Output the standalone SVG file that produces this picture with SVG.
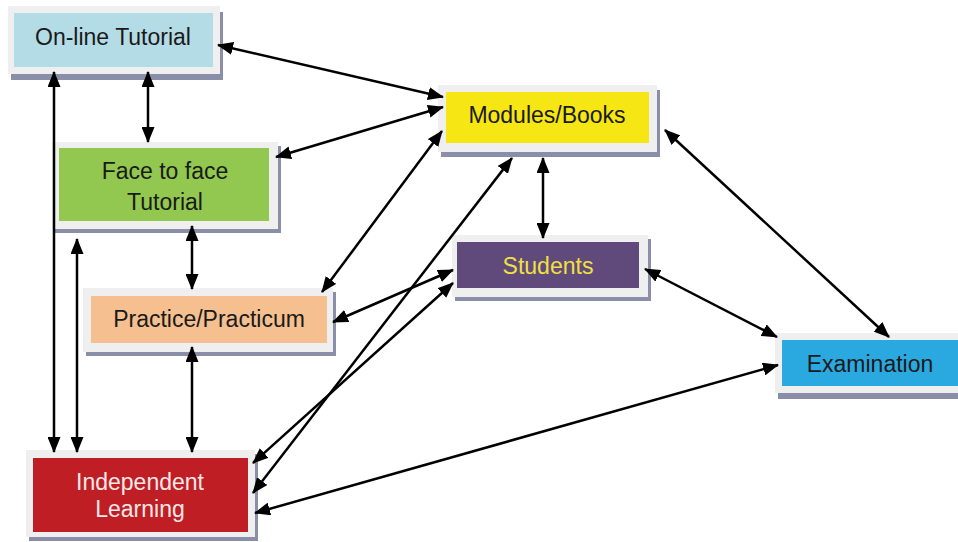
<svg xmlns="http://www.w3.org/2000/svg" width="958" height="542" viewBox="0 0 958 542">
<style>
.frame{fill:#efefef}
.shadow{fill:#8a8ea8}
.t{font-family:"Liberation Sans",Arial,sans-serif;font-size:23px;text-anchor:middle;fill:#1a1a1a}
.c line{stroke:#000;stroke-width:2.5;marker-start:url(#ah);marker-end:url(#ah)}
</style>
<defs>
<marker id="ah" markerUnits="userSpaceOnUse" markerWidth="16" markerHeight="13" viewBox="0 0 16 13" refX="15" refY="6.5" orient="auto-start-reverse">
<path d="M0,0 L16,6.5 L0,13 z" fill="#000"/>
</marker>
</defs>
<rect width="958" height="542" fill="#fff"/>
<g id="online">
<rect class="shadow" x="11" y="12" width="212" height="68"/>
<rect class="frame" x="8" y="6" width="212" height="68"/>
<rect x="14" y="13" width="199" height="54" fill="#b4dce6"/>
<text class="t" x="113" y="45">On-line Tutorial</text>
</g>
<g id="face">
<rect class="shadow" x="55" y="146" width="226" height="87"/>
<rect class="frame" x="52" y="142" width="226" height="87"/>
<rect x="59" y="148" width="210" height="73" fill="#92c84f"/>
<text class="t" x="165" y="179">Face to face</text>
<text class="t" x="165" y="210">Tutorial</text>
</g>
<g id="modules">
<rect class="shadow" x="441" y="90" width="219" height="67"/>
<rect class="frame" x="438" y="85" width="219" height="67"/>
<rect x="446" y="92" width="203" height="51" fill="#f5e614"/>
<text class="t" x="547" y="123">Modules/Books</text>
</g>
<g id="students">
<rect class="shadow" x="455" y="239" width="196" height="62"/>
<rect class="frame" x="452" y="235" width="196" height="62"/>
<rect x="457" y="242" width="182" height="46" fill="#604a7b"/>
<text class="t" x="548" y="274" style="fill:#f0e040">Students</text>
</g>
<g id="practice">
<rect class="shadow" x="86" y="292" width="250" height="64"/>
<rect class="frame" x="83" y="288" width="250" height="64"/>
<rect x="91" y="296" width="236" height="47" fill="#f5bf8f"/>
<text class="t" x="209" y="327">Practice/Practicum</text>
</g>
<g id="independent">
<rect class="shadow" x="29" y="454" width="229" height="87"/>
<rect class="frame" x="26" y="450" width="229" height="87"/>
<rect x="33" y="458" width="215" height="74" fill="#be1e24"/>
<text class="t" x="140" y="490" style="fill:#fbe8e8">Independent</text>
<text class="t" x="140" y="517" style="fill:#fbe8e8">Learning</text>
</g>
<g id="examination">
<rect class="shadow" x="778" y="338" width="190" height="61"/>
<rect class="frame" x="775" y="333" width="190" height="60"/>
<rect x="782" y="340" width="190" height="46" fill="#2aa9e0"/>
<text class="t" x="870" y="372">Examination</text>
</g>
<g id="connectors" class="c">
<line x1="218" y1="45" x2="443" y2="97"/>
<line x1="148" y1="72" x2="148" y2="142"/>
<line x1="54" y1="72" x2="54" y2="452"/>
<line x1="77" y1="239" x2="77" y2="452"/>
<line x1="276" y1="157" x2="443" y2="107"/>
<line x1="192" y1="226" x2="192" y2="289"/>
<line x1="322" y1="292" x2="442" y2="131"/>
<line x1="333" y1="322" x2="453" y2="270"/>
<line x1="192" y1="347" x2="192" y2="452"/>
<line x1="543" y1="158" x2="543" y2="238"/>
<line x1="512" y1="158" x2="253" y2="493"/>
<line x1="453" y1="283" x2="253" y2="463"/>
<line x1="645" y1="269" x2="777" y2="337"/>
<line x1="665" y1="130" x2="889" y2="337"/>
<line x1="255" y1="513" x2="778" y2="365"/>
</g>
</svg>
